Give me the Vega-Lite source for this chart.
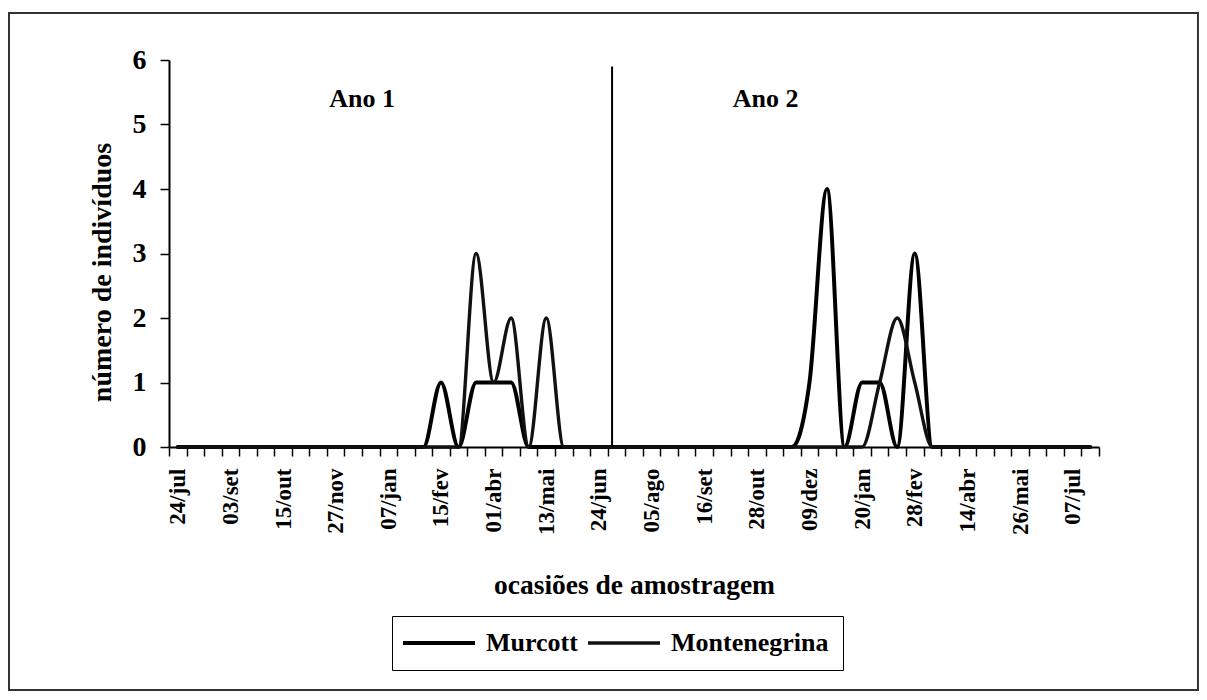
{
  "$schema": "https://vega.github.io/schema/vega-lite/v6.json",
  "width": 930,
  "height": 387,
  "autosize": "none",
  "padding": {"left": 169, "top": 60, "right": 108, "bottom": 253},
  "background": "white",
  "config": {
    "view": {"stroke": null},
    "font": "Liberation Serif",
    "axis": {
      "labelFont": "Liberation Serif", "labelFontWeight": "bold", "labelColor": "black",
      "titleFont": "Liberation Serif", "titleFontWeight": "bold", "titleColor": "black",
      "domainColor": "black", "domainWidth": 2, "tickColor": "black", "tickWidth": 1.5, "grid": false
    }
  },
  "datasets": {
    "obs": [
      {"data": "24/jul", "serie": "Murcott", "n": 0},
      {"data": "07/ago", "serie": "Murcott", "n": 0},
      {"data": "21/ago", "serie": "Murcott", "n": 0},
      {"data": "03/set", "serie": "Murcott", "n": 0},
      {"data": "17/set", "serie": "Murcott", "n": 0},
      {"data": "01/out", "serie": "Murcott", "n": 0},
      {"data": "15/out", "serie": "Murcott", "n": 0},
      {"data": "29/out", "serie": "Murcott", "n": 0},
      {"data": "13/nov", "serie": "Murcott", "n": 0},
      {"data": "27/nov", "serie": "Murcott", "n": 0},
      {"data": "10/dez", "serie": "Murcott", "n": 0},
      {"data": "24/dez", "serie": "Murcott", "n": 0},
      {"data": "07/jan", "serie": "Murcott", "n": 0},
      {"data": "21/jan", "serie": "Murcott", "n": 0},
      {"data": "03/fev", "serie": "Murcott", "n": 0},
      {"data": "15/fev", "serie": "Murcott", "n": 1},
      {"data": "01/mar", "serie": "Murcott", "n": 0},
      {"data": "16/mar", "serie": "Murcott", "n": 1},
      {"data": "01/abr", "serie": "Murcott", "n": 1},
      {"data": "15/abr", "serie": "Murcott", "n": 1},
      {"data": "29/abr", "serie": "Murcott", "n": 0},
      {"data": "13/mai", "serie": "Murcott", "n": 0},
      {"data": "27/mai", "serie": "Murcott", "n": 0},
      {"data": "10/jun", "serie": "Murcott", "n": 0},
      {"data": "24/jun", "serie": "Murcott", "n": 0},
      {"data": "08/jul", "serie": "Murcott", "n": 0},
      {"data": "22/jul", "serie": "Murcott", "n": 0},
      {"data": "05/ago", "serie": "Murcott", "n": 0},
      {"data": "19/ago", "serie": "Murcott", "n": 0},
      {"data": "02/set", "serie": "Murcott", "n": 0},
      {"data": "16/set", "serie": "Murcott", "n": 0},
      {"data": "30/set", "serie": "Murcott", "n": 0},
      {"data": "14/out", "serie": "Murcott", "n": 0},
      {"data": "28/out", "serie": "Murcott", "n": 0},
      {"data": "11/nov", "serie": "Murcott", "n": 0},
      {"data": "25/nov", "serie": "Murcott", "n": 0},
      {"data": "09/dez", "serie": "Murcott", "n": 1},
      {"data": "23/dez", "serie": "Murcott", "n": 4},
      {"data": "06/jan", "serie": "Murcott", "n": 0},
      {"data": "20/jan", "serie": "Murcott", "n": 1},
      {"data": "02/fev", "serie": "Murcott", "n": 1},
      {"data": "14/fev", "serie": "Murcott", "n": 0},
      {"data": "28/fev", "serie": "Murcott", "n": 3},
      {"data": "14/mar", "serie": "Murcott", "n": 0},
      {"data": "29/mar", "serie": "Murcott", "n": 0},
      {"data": "14/abr", "serie": "Murcott", "n": 0},
      {"data": "28/abr", "serie": "Murcott", "n": 0},
      {"data": "12/mai", "serie": "Murcott", "n": 0},
      {"data": "26/mai", "serie": "Murcott", "n": 0},
      {"data": "09/jun", "serie": "Murcott", "n": 0},
      {"data": "23/jun", "serie": "Murcott", "n": 0},
      {"data": "07/jul", "serie": "Murcott", "n": 0},
      {"data": "21/jul", "serie": "Murcott", "n": 0},
      {"data": "24/jul", "serie": "Montenegrina", "n": 0},
      {"data": "07/ago", "serie": "Montenegrina", "n": 0},
      {"data": "21/ago", "serie": "Montenegrina", "n": 0},
      {"data": "03/set", "serie": "Montenegrina", "n": 0},
      {"data": "17/set", "serie": "Montenegrina", "n": 0},
      {"data": "01/out", "serie": "Montenegrina", "n": 0},
      {"data": "15/out", "serie": "Montenegrina", "n": 0},
      {"data": "29/out", "serie": "Montenegrina", "n": 0},
      {"data": "13/nov", "serie": "Montenegrina", "n": 0},
      {"data": "27/nov", "serie": "Montenegrina", "n": 0},
      {"data": "10/dez", "serie": "Montenegrina", "n": 0},
      {"data": "24/dez", "serie": "Montenegrina", "n": 0},
      {"data": "07/jan", "serie": "Montenegrina", "n": 0},
      {"data": "21/jan", "serie": "Montenegrina", "n": 0},
      {"data": "03/fev", "serie": "Montenegrina", "n": 0},
      {"data": "15/fev", "serie": "Montenegrina", "n": 0},
      {"data": "01/mar", "serie": "Montenegrina", "n": 0},
      {"data": "16/mar", "serie": "Montenegrina", "n": 3},
      {"data": "01/abr", "serie": "Montenegrina", "n": 1},
      {"data": "15/abr", "serie": "Montenegrina", "n": 2},
      {"data": "29/abr", "serie": "Montenegrina", "n": 0},
      {"data": "13/mai", "serie": "Montenegrina", "n": 2},
      {"data": "27/mai", "serie": "Montenegrina", "n": 0},
      {"data": "10/jun", "serie": "Montenegrina", "n": 0},
      {"data": "24/jun", "serie": "Montenegrina", "n": 0},
      {"data": "08/jul", "serie": "Montenegrina", "n": 0},
      {"data": "22/jul", "serie": "Montenegrina", "n": 0},
      {"data": "05/ago", "serie": "Montenegrina", "n": 0},
      {"data": "19/ago", "serie": "Montenegrina", "n": 0},
      {"data": "02/set", "serie": "Montenegrina", "n": 0},
      {"data": "16/set", "serie": "Montenegrina", "n": 0},
      {"data": "30/set", "serie": "Montenegrina", "n": 0},
      {"data": "14/out", "serie": "Montenegrina", "n": 0},
      {"data": "28/out", "serie": "Montenegrina", "n": 0},
      {"data": "11/nov", "serie": "Montenegrina", "n": 0},
      {"data": "25/nov", "serie": "Montenegrina", "n": 0},
      {"data": "09/dez", "serie": "Montenegrina", "n": 0},
      {"data": "23/dez", "serie": "Montenegrina", "n": 0},
      {"data": "06/jan", "serie": "Montenegrina", "n": 0},
      {"data": "20/jan", "serie": "Montenegrina", "n": 0},
      {"data": "02/fev", "serie": "Montenegrina", "n": 1},
      {"data": "14/fev", "serie": "Montenegrina", "n": 2},
      {"data": "28/fev", "serie": "Montenegrina", "n": 1},
      {"data": "14/mar", "serie": "Montenegrina", "n": 0},
      {"data": "29/mar", "serie": "Montenegrina", "n": 0},
      {"data": "14/abr", "serie": "Montenegrina", "n": 0},
      {"data": "28/abr", "serie": "Montenegrina", "n": 0},
      {"data": "12/mai", "serie": "Montenegrina", "n": 0},
      {"data": "26/mai", "serie": "Montenegrina", "n": 0},
      {"data": "09/jun", "serie": "Montenegrina", "n": 0},
      {"data": "23/jun", "serie": "Montenegrina", "n": 0},
      {"data": "07/jul", "serie": "Montenegrina", "n": 0},
      {"data": "21/jul", "serie": "Montenegrina", "n": 0}
    ]
  },
  "layer": [
    {
      "data": {"name": "obs"},
      "mark": {"type": "line", "interpolate": "monotone", "strokeCap": "round", "strokeJoin": "round"},
      "encoding": {
        "x": {
          "field": "data", "type": "ordinal", "sort": null,
          "scale": {"type": "band", "paddingInner": 0, "paddingOuter": 0},
          "axis": {
            "title": "ocasiões de amostragem", "titleFontSize": 27.5, "titleY": 146, "titleBaseline": "alphabetic",
            "labelFontSize": 23, "labelAngle": 270, "labelPadding": 12, "tickSize": 9,
            "tickBand": "extent", "labelOverlap": false, "labelBound": false,
            "labelExpr": "indexof(['24/jul','03/set','15/out','27/nov','07/jan','15/fev','01/abr','13/mai','24/jun','05/ago','16/set','28/out','09/dez','20/jan','28/fev','14/abr','26/mai','07/jul'], datum.value) >= 0 ? datum.value : ''"
          }
        },
        "y": {
          "field": "n", "type": "quantitative",
          "scale": {"domain": [0, 6], "nice": false, "zero": true},
          "axis": {
            "title": "número de indivíduos", "titleFontSize": 28, "titlePadding": 16, "titleY": 212,
            "values": [0, 1, 2, 3, 4, 5, 6], "format": "d", "labelFontSize": 28, "labelPadding": 14, "tickSize": 9
          }
        },
        "color": {
          "field": "serie", "type": "nominal",
          "scale": {"domain": ["Murcott", "Montenegrina"], "range": ["#000000", "#111111"]},
          "legend": {
            "orient": "none", "legendX": 223, "legendY": 556, "direction": "horizontal", "title": null,
            "symbolType": "M-1.6,0H5.6", "symbolSize": 400, "symbolStrokeWidth": 3.5, "symbolStrokeColor": "black",
            "labelFont": "Liberation Serif", "labelFontWeight": "bold", "labelFontSize": 26, "labelColor": "black",
            "labelOffset": 54, "columnPadding": 3, "strokeColor": "black", "padding": 14, "labelLimit": 0
          }
        },
        "strokeWidth": {
          "field": "serie", "type": "nominal",
          "scale": {"domain": ["Murcott", "Montenegrina"], "range": [4, 3.4]},
          "legend": null
        }
      }
    },
    {
      "data": {"values": [{}]},
      "mark": {"type": "rule", "color": "black", "strokeWidth": 2},
      "encoding": {
        "x": {"datum": "08/jul", "type": "ordinal", "bandPosition": 0.25},
        "y": {"datum": 0, "type": "quantitative"},
        "y2": {"datum": 5.9}
      }
    },
    {
      "data": {"values": [{}]},
      "mark": {"type": "text", "text": "Ano 1", "font": "Liberation Serif", "fontWeight": "bold", "fontSize": 26, "color": "black", "align": "center", "baseline": "middle"},
      "encoding": {
        "x": {"datum": "24/dez", "type": "ordinal", "bandPosition": 0},
        "y": {"datum": 5.4, "type": "quantitative"}
      }
    },
    {
      "data": {"values": [{}]},
      "mark": {"type": "text", "text": "Ano 2", "font": "Liberation Serif", "fontWeight": "bold", "fontSize": 26, "color": "black", "align": "center", "baseline": "middle"},
      "encoding": {
        "x": {"datum": "11/nov", "type": "ordinal", "bandPosition": 0},
        "y": {"datum": 5.4, "type": "quantitative"}
      }
    },
    {
      "data": {"values": [{}]},
      "mark": {"type": "rect", "fillOpacity": 0, "stroke": "#333333", "strokeWidth": 2},
      "encoding": {
        "x": {"datum": "24/jul", "type": "ordinal", "bandPosition": -9.118},
        "x2": {"datum": "21/jul", "bandPosition": 6.64},
        "y": {"datum": 6.729, "type": "quantitative"},
        "y2": {"datum": -3.767}
      }
    }
  ]
}
